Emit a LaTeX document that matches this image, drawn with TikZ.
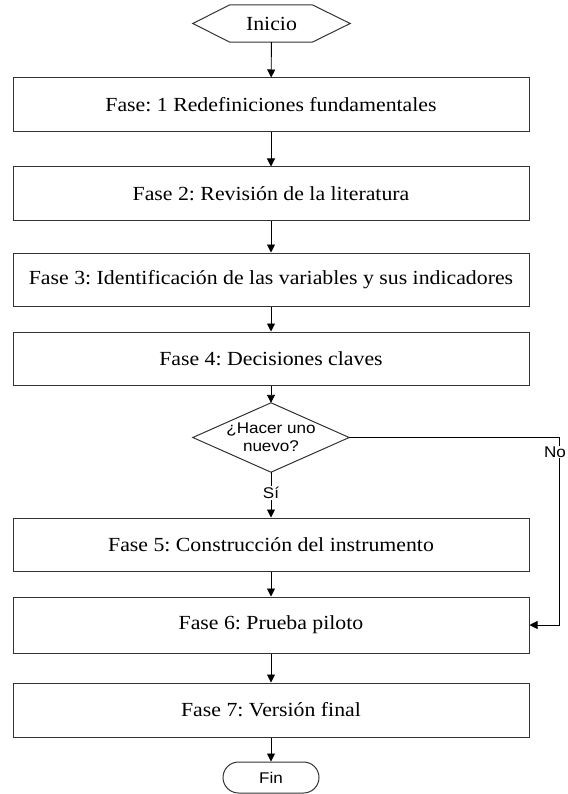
\documentclass[tikz,border=0pt]{standalone}
\usepackage{fontspec}
\setmainfont{Liberation Serif}
\newfontfamily\arialf{Liberation Sans}
\usetikzlibrary{arrows.meta}
\newcommand{\tms}[1]{\scalebox{1.09}[1]{#1}}
\newcommand{\ars}[1]{\scalebox{1.1}[1]{#1}}
\frenchspacing
\begin{document}
\begin{tikzpicture}[x=1pt,y=-1pt,
  outline/.style={draw=black!80, line width=1pt},
  phase/.style={outline, minimum width=516pt, minimum height=54pt, inner sep=0pt,
    font=\fontsize{20}{24}\selectfont},
  plain/.style={inner sep=0pt, font=\fontsize{20}{24}\selectfont},
  sanslbl/.style={inner sep=1pt, fill=white, font=\arialf\fontsize{15.5}{18.4}\selectfont},
  conn/.style={line width=0.9pt, black, -{Triangle[length=8pt,width=8pt]}},
  line/.style={line width=0.9pt, black}]
\useasboundingbox (0,0) rectangle (567,794);
% start
\node[plain, minimum width=157pt, minimum height=37pt] (ini) at (271.5,23.5) {\tms{Inicio}};
\draw[outline] (ini.west) -- ([xshift=37pt]ini.north west) -- ([xshift=-38pt]ini.north east)
  -- (ini.east) -- ([xshift=-38pt]ini.south east) -- ([xshift=37pt]ini.south west) -- cycle;
% phases
\node[phase] (b1) at (271,105) {\tms{Fase: 1 Redefiniciones fundamentales}};
\node[phase] (b2) at (271,194) {\tms{Fase 2: Revisión de la literatura}};
\node[phase, minimum height=53pt] (b3) at (271,279.5) {\tms{Fase 3: Identificación de las variables y sus indicadores}};
\node[phase, minimum height=53pt] (b4) at (271,358.5) {\tms{Fase 4: Decisiones claves}};
% decision
\node[inner sep=0pt, minimum width=156pt, minimum height=69pt, align=center,
  font=\arialf\fontsize{15.5}{18.4}\selectfont] (q) at (271,437.5) {\ars{¿Hacer uno}\\\ars{nuevo?}};
\draw[outline] (q.west) -- (q.north) -- (q.east) -- (q.south) -- cycle;
\node[phase, minimum height=53pt] (b5) at (271,544.5) {\tms{Fase 5: Construcción del instrumento}};
\node[phase, minimum height=56pt] (b6) at (271,625) {\tms{Fase 6: Prueba piloto}};
\node[phase] (b7) at (271,710) {\tms{Fase 7: Versión final}};
% end
\node[outline, rounded corners=15.5pt, minimum width=96pt, minimum height=31pt, inner sep=0pt,
  font=\arialf\fontsize{15.5}{18.4}\selectfont] (fin) at (271,777.5) {\ars{Fin}};
% connectors
\draw[conn] (ini) -- (b1);
\draw[conn] (b1) -- (b2);
\draw[conn] (b2) -- (b3);
\draw[conn] (b3) -- (b4);
\draw[conn] (b4) -- (q.north);
\draw[conn] (q.south) -- (b5);
\node[sanslbl] (si) at (271,493) {\ars{Sí}};
\draw[conn] (b5) -- (b6);
\draw[conn] (b6) -- (b7);
\draw[conn] (b7) -- (fin);
\coordinate (nc1) at (559,437.5);
\coordinate (nc2) at (559,625);
\draw[conn] (q.east) -- (nc1) -- (nc2) -- (b6.east);
\node[sanslbl, anchor=east, inner xsep=0.5pt] (no) at (566.5,452) {\ars{No}};
\end{tikzpicture}
\end{document}
